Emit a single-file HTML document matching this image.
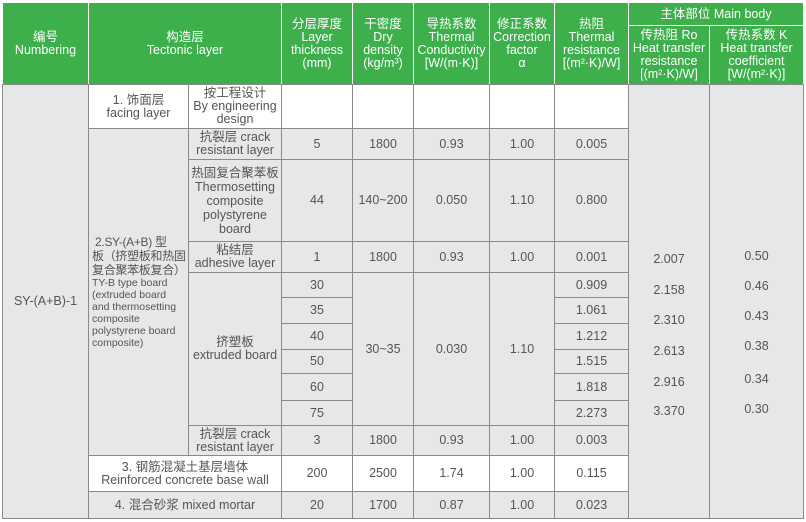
<!DOCTYPE html>
<html><head><meta charset="utf-8"><style>
body{margin:0;width:806px;height:522px;background:#fff;overflow:hidden;font-family:"Liberation Sans","Noto Sans CJK SC",sans-serif;}
.c{position:absolute;box-sizing:border-box;border:1px solid #8a8a8a;background:#e6e7e8;color:#555;font-size:12.5px;line-height:13px;display:flex;align-items:center;justify-content:center;text-align:center;}
.w{background:#fff}
.h{background:#3db04b;color:#fff;border:1px solid #fff;font-size:12.5px;line-height:13px}
.t{position:absolute;color:#555;font-size:12.5px;text-align:center;}
</style></head><body>
<!-- header -->
<div class="c h" style="left:2px;top:2px;width:87px;height:83px">编号<br>Numbering</div>
<div class="c h" style="left:88px;top:2px;width:194px;height:83px">构造层<br>Tectonic layer</div>
<div class="c h" style="left:281px;top:2px;width:72px;height:83px">分层厚度<br>Layer<br>thickness<br>(mm)</div>
<div class="c h" style="left:352px;top:2px;width:62px;height:83px">干密度<br>Dry<br>density<br>(kg/m³)</div>
<div class="c h" style="left:413px;top:2px;width:77px;height:83px">导热系数<br>Thermal<br>Conductivity<br>[W/(m·K)]</div>
<div class="c h" style="left:489px;top:2px;width:66px;height:83px">修正系数<br>Correction<br>factor<br>α</div>
<div class="c h" style="left:554px;top:2px;width:75px;height:83px">热阻<br>Thermal<br>resistance<br>[(m²·K)/W]</div>
<div class="c h" style="left:628px;top:2px;width:176px;height:24px">主体部位 Main body</div>
<div class="c h" style="left:628px;top:25px;width:82px;height:60px">传热阻 Ro<br>Heat transfer<br>resistance<br>[(m²·K)/W]</div>
<div class="c h" style="left:709px;top:25px;width:95px;height:60px">传热系数 K<br>Heat transfer<br>coefficient<br>[W/(m²·K)]</div>
<!-- body -->
<div class="c" style="left:2px;top:84px;width:87px;height:435px">SY-(A+B)-1</div>
<div class="c w" style="left:88px;top:84px;width:101px;height:45px">1. 饰面层<br>facing layer</div>
<div class="c w" style="left:188px;top:84px;width:94px;height:45px">按工程设计<br>By engineering<br>design</div>
<div class="c w" style="left:281px;top:84px;width:72px;height:45px"></div>
<div class="c w" style="left:352px;top:84px;width:62px;height:45px"></div>
<div class="c w" style="left:413px;top:84px;width:77px;height:45px"></div>
<div class="c w" style="left:489px;top:84px;width:66px;height:45px"></div>
<div class="c w" style="left:554px;top:84px;width:75px;height:45px"></div>
<div class="c" style="left:628px;top:84px;width:82px;height:435px"></div>
<div class="c" style="left:709px;top:84px;width:95px;height:435px"></div>
<div class="c" style="left:88px;top:128px;width:101px;height:328px;justify-content:flex-start;align-items:flex-start;text-align:left;padding:106px 0 0 3px;font-size:12px;line-height:14px;white-space:nowrap;overflow:hidden"><div><span style="letter-spacing:-0.3px">&nbsp;2.SY-(A+B) 型<br>板（挤塑板和热固<br>复合聚苯板复合）</span><br><span style="font-size:10.5px;line-height:12px;display:block">TY-B type board<br>(extruded board<br>and thermosetting<br>composite<br>polystyrene board<br>composite)</span></div></div>
<!-- rows -->
<div class="c" style="left:188px;top:128px;width:94px;height:32px">抗裂层 crack<br>resistant layer</div>
<div class="c" style="left:281px;top:128px;width:72px;height:32px">5</div>
<div class="c" style="left:352px;top:128px;width:62px;height:32px">1800</div>
<div class="c" style="left:413px;top:128px;width:77px;height:32px">0.93</div>
<div class="c" style="left:489px;top:128px;width:66px;height:32px">1.00</div>
<div class="c" style="left:554px;top:128px;width:75px;height:32px">0.005</div>

<div class="c" style="left:188px;top:159px;width:94px;height:83px;line-height:14px">热固复合聚苯板<br>Thermosetting<br>composite<br>polystyrene<br>board</div>
<div class="c" style="left:281px;top:159px;width:72px;height:83px">44</div>
<div class="c" style="left:352px;top:159px;width:62px;height:83px">140~200</div>
<div class="c" style="left:413px;top:159px;width:77px;height:83px">0.050</div>
<div class="c" style="left:489px;top:159px;width:66px;height:83px">1.10</div>
<div class="c" style="left:554px;top:159px;width:75px;height:83px">0.800</div>

<div class="c" style="left:188px;top:241px;width:94px;height:32px">粘结层<br>adhesive layer</div>
<div class="c" style="left:281px;top:241px;width:72px;height:32px">1</div>
<div class="c" style="left:352px;top:241px;width:62px;height:32px">1800</div>
<div class="c" style="left:413px;top:241px;width:77px;height:32px">0.93</div>
<div class="c" style="left:489px;top:241px;width:66px;height:32px">1.00</div>
<div class="c" style="left:554px;top:241px;width:75px;height:32px">0.001</div>

<div class="c" style="left:188px;top:272px;width:94px;height:154px">挤塑板<br>extruded board</div>
<div class="c" style="left:352px;top:272px;width:62px;height:154px">30~35</div>
<div class="c" style="left:413px;top:272px;width:77px;height:154px">0.030</div>
<div class="c" style="left:489px;top:272px;width:66px;height:154px">1.10</div>
<div class="c" style="left:281px;top:272px;width:72px;height:26px">30</div>
<div class="c" style="left:281px;top:297px;width:72px;height:27px">35</div>
<div class="c" style="left:281px;top:323px;width:72px;height:27px">40</div>
<div class="c" style="left:281px;top:349px;width:72px;height:25px">50</div>
<div class="c" style="left:281px;top:373px;width:72px;height:28px">60</div>
<div class="c" style="left:281px;top:400px;width:72px;height:26px">75</div>
<div class="c" style="left:554px;top:272px;width:75px;height:26px">0.909</div>
<div class="c" style="left:554px;top:297px;width:75px;height:27px">1.061</div>
<div class="c" style="left:554px;top:323px;width:75px;height:27px">1.212</div>
<div class="c" style="left:554px;top:349px;width:75px;height:25px">1.515</div>
<div class="c" style="left:554px;top:373px;width:75px;height:28px">1.818</div>
<div class="c" style="left:554px;top:400px;width:75px;height:26px">2.273</div>

<div class="c" style="left:188px;top:425px;width:94px;height:31px">抗裂层 crack<br>resistant layer</div>
<div class="c" style="left:281px;top:425px;width:72px;height:31px">3</div>
<div class="c" style="left:352px;top:425px;width:62px;height:31px">1800</div>
<div class="c" style="left:413px;top:425px;width:77px;height:31px">0.93</div>
<div class="c" style="left:489px;top:425px;width:66px;height:31px">1.00</div>
<div class="c" style="left:554px;top:425px;width:75px;height:31px">0.003</div>

<div class="c w" style="left:88px;top:455px;width:194px;height:37px">3. 钢筋混凝土基层墙体<br>Reinforced concrete base wall</div>
<div class="c w" style="left:281px;top:455px;width:72px;height:37px">200</div>
<div class="c w" style="left:352px;top:455px;width:62px;height:37px">2500</div>
<div class="c w" style="left:413px;top:455px;width:77px;height:37px">1.74</div>
<div class="c w" style="left:489px;top:455px;width:66px;height:37px">1.00</div>
<div class="c w" style="left:554px;top:455px;width:75px;height:37px">0.115</div>

<div class="c" style="left:88px;top:491px;width:194px;height:28px">4. 混合砂浆 mixed mortar</div>
<div class="c" style="left:281px;top:491px;width:72px;height:28px">20</div>
<div class="c" style="left:352px;top:491px;width:62px;height:28px">1700</div>
<div class="c" style="left:413px;top:491px;width:77px;height:28px">0.87</div>
<div class="c" style="left:489px;top:491px;width:66px;height:28px">1.00</div>
<div class="c" style="left:554px;top:491px;width:75px;height:28px">0.023</div>

<div class="t" style="left:628px;width:82px;top:252px">2.007</div>
<div class="t" style="left:628px;width:82px;top:283px">2.158</div>
<div class="t" style="left:628px;width:82px;top:313px">2.310</div>
<div class="t" style="left:628px;width:82px;top:344px">2.613</div>
<div class="t" style="left:628px;width:82px;top:375px">2.916</div>
<div class="t" style="left:628px;width:82px;top:404px">3.370</div>
<div class="t" style="left:709px;width:95px;top:249px">0.50</div>
<div class="t" style="left:709px;width:95px;top:279px">0.46</div>
<div class="t" style="left:709px;width:95px;top:309px">0.43</div>
<div class="t" style="left:709px;width:95px;top:339px">0.38</div>
<div class="t" style="left:709px;width:95px;top:372px">0.34</div>
<div class="t" style="left:709px;width:95px;top:402px">0.30</div>
</body></html>
